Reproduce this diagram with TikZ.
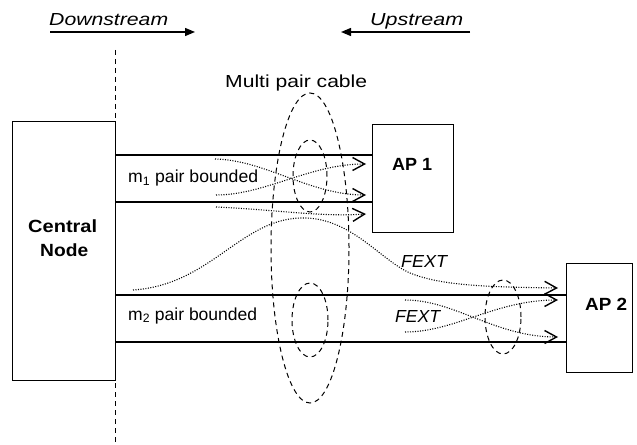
\documentclass[tikz,border=0pt]{standalone}
\usepackage{fontspec}
\setmainfont{Liberation Sans}
\usepackage{graphicx}
\usetikzlibrary{arrows.meta}
\newcommand{\fw}[2]{\resizebox{#1bp}{\height}{#2}}
\begin{document}
\begin{tikzpicture}[x=1bp,y=-1bp,
  txt/.style={inner sep=0,anchor=base west,font=\fontsize{17.5}{20}\selectfont},
  btxt/.style={inner sep=0,anchor=base west,font=\fontsize{17.7}{20}\selectfont\bfseries},
  box/.style={draw,line width=1bp,inner sep=0},
  wire/.style={line width=1.2bp},
  xtalk/.style={line width=1.1bp,dash pattern=on 1bp off 1.5bp,-{Straight Barb[length=12bp,width=13bp,line width=1.4bp]}},
  cable/.style={line width=1bp,dash pattern=on 5bp off 4bp},
  dir/.style={line width=1.3bp,-{Triangle[length=10bp,width=8bp]}},
  divider/.style={line width=1bp,dash pattern=on 5bp off 4bp}]

\useasboundingbox (0,0) rectangle (637,445);

% boxes
\node[box,minimum width=102bp,minimum height=258bp] (central) at (64,251) {};
\node[box,minimum width=81bp,minimum height=108bp] (ap1) at (412.5,179) {};
\node[box,minimum width=66bp,minimum height=108bp] (ap2) at (599,318) {};

% texts
\node[btxt] (centralA) at (28,233) {\fw{69}{Central}};
\node[btxt] (centralB) at (40,257) {\fw{48}{Node}};
\node[btxt] (ap1t) at (392,171) {\fw{40}{AP 1}};
\node[btxt] (ap2t) at (585,311) {\fw{42}{AP 2}};
\node[txt] (down) at (49,26) {\fw{119}{\itshape Downstream}};
\node[txt] (up) at (370,26) {\fw{93}{\itshape Upstream}};
\node[txt] (mpc) at (225,88) {\fw{142}{Multi pair cable}};
\node[txt] (m1t) at (128,183) {\fw{130}{m\textsubscript{1} pair bounded}};
\node[txt] (m2t) at (128,320) {\fw{129}{m\textsubscript{2} pair bounded}};
\node[txt] (fext1) at (401,268) {\fw{46}{\itshape FEXT}};
\node[txt] (fext2) at (395,322) {\fw{45}{\itshape FEXT}};

% direction arrows
\coordinate (downS) at (50,32);
\coordinate (downE) at (195,32);
\coordinate (upS) at (470,32);
\coordinate (upE) at (341,32);
\draw[dir] (downS) -- (downE);
\draw[dir] (upS) -- (upE);

% divider
\coordinate (divT) at (115,50);
\coordinate (divB) at (115,445);
\draw[divider] (divT) -- (divB);

% wires
\coordinate (ya) at (0,155);
\coordinate (yb) at (0,202);
\coordinate (yc) at (0,295);
\coordinate (yd) at (0,342);
\draw[wire] (central.east |- ya) -- (ap1.west |- ya);
\draw[wire] (central.east |- yb) -- (ap1.west |- yb);
\draw[wire] (central.east |- yc) -- (ap2.west |- yc);
\draw[wire] (central.east |- yd) -- (ap2.west |- yd);

% cable ellipses
\draw[cable] (310,248) ellipse [x radius=39bp, y radius=155bp];
\draw[cable] (310,176) ellipse [x radius=17bp, y radius=36bp];
\draw[cable] (310,320) ellipse [x radius=18bp, y radius=37bp];
\draw[cable] (503,317) ellipse [x radius=18bp, y radius=37bp];

% crosstalk near AP 1
\draw[xtalk] (215,159) .. controls (265,160) and (310,195) .. (366,195);
\draw[xtalk] (216,195) .. controls (265,195) and (310,164) .. (366,164);
\draw[xtalk] (216,207) .. controls (280,210) and (320,217) .. (366,214);

% long FEXT curve
\draw[xtalk] (133,290) .. controls (210,285) and (240,220) .. (300,218)
   .. controls (350,216) and (380,260) .. (410,273)
   .. controls (440,285) and (480,287) .. (558,288);

% crosstalk near AP 2
\draw[xtalk] (405,300) .. controls (455,300) and (495,337) .. (558,337);
\draw[xtalk] (405,332) .. controls (455,332) and (495,300) .. (558,300);
\end{tikzpicture}
\end{document}
